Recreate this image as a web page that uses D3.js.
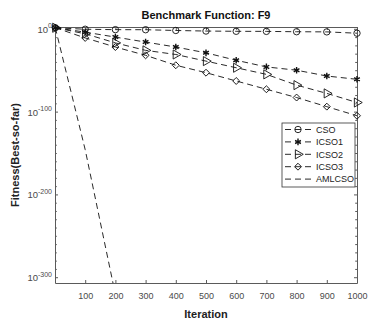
<!DOCTYPE html>
<html>
<head>
<meta charset="utf-8">
<script src="https://cdn.jsdelivr.net/npm/d3@7/dist/d3.min.js"></script>
<style>
  body { margin: 0; background: #fff; }
  text { font-family: "Liberation Sans", Arial, sans-serif; }
</style>
</head>
<body>
<script>
const WIDTH = 369
const HEIGHT = 322

// Data
const iterations = [1, 100, 200, 300, 400, 500, 600, 700, 800, 900, 1000]
const cso = [20, 0.3, 0.1, 0.08, 1e-2, 2e-3, 1e-3, 8e-4, 3e-4, 2e-4, 5e-6]
const icso1 = [20, 1e-4, 1e-10, 1e-16, 1e-22, 1e-29, 1e-38, 1e-46, 1e-50, 1e-57, 1e-61]
const icso2 = [20, 1e-6, 1e-17, 1e-26, 1e-31, 1e-39, 1e-47, 1e-55, 1e-68, 1e-78, 1e-89]
const icso3 = [20, 1e-11, 1e-22, 1e-32, 1e-44, 1e-53, 1e-63, 1e-73, 1e-83, 1e-94, 1e-105]
const amlIterations = [1, 100, 200]
const amlcso = [20, 1e-146, 1e-321]

const xTicks = [100, 200, 300, 400, 500, 600, 700, 800, 900, 1000]
const yTickExps = [0, -100, -200, -300]

const series = [
  { name: "CSO", x: iterations, y: cso, marker: "circle" },
  { name: "ICSO1", x: iterations, y: icso1, marker: "star" },
  { name: "ICSO2", x: iterations, y: icso2, marker: "triangle" },
  { name: "ICSO3", x: iterations, y: icso3, marker: "diamond" },
  { name: "AMLCSO", x: amlIterations, y: amlcso, marker: null }
]

// Layout
const margin = { top: 27, right: 12, bottom: 39, left: 55 }
const AXIS = "#5a5a5a"
const LABEL = "#4a4a4a"

const pLeft = margin.left, pRight = WIDTH - margin.right
const pTop = margin.top, pBottom = HEIGHT - margin.bottom

const x = d3.scaleLinear([0, 1000], [pLeft, pRight])
const y = d3.scaleLog([1e-307, Math.pow(10, 2.2)], [pBottom, pTop])

const svg = d3.select("body").append("svg")
  .attr("width", WIDTH)
  .attr("height", HEIGHT)

svg.append("defs").append("clipPath").attr("id", "plot")
  .append("rect")
    .attr("x", pLeft).attr("y", pTop)
    .attr("width", pRight - pLeft)
    .attr("height", pBottom - pTop)

// Axes (MATLAB style: ticks inward, mirrored)
const minorExps = d3.range(-300, 1, 10).filter(e => e % 100 !== 0)
const styleAxis = g => {
  g.select(".domain").attr("stroke", AXIS)
  g.selectAll(".tick line").attr("stroke", AXIS)
}

// bottom x axis
svg.append("g")
  .attr("transform", `translate(0,${pBottom})`)
  .call(d3.axisBottom(x).tickValues(xTicks).tickFormat(d3.format("d"))
    .tickSize(-3).tickSizeOuter(0).tickPadding(10))
  .call(styleAxis)
  .call(g => g.selectAll(".tick text")
    .attr("fill", LABEL)
    .attr("font-size", 9))

// top x axis ticks
svg.append("g")
  .attr("transform", `translate(0,${pTop})`)
  .call(d3.axisTop(x).tickValues(xTicks).tickSize(-3).tickSizeOuter(0).tickFormat(""))
  .call(styleAxis)

// left and right y axes, major + minor ticks
;[[d3.axisLeft, pLeft], [d3.axisRight, pRight]].forEach(([axisFn, px]) => {
  svg.append("g")
    .attr("transform", `translate(${px},0)`)
    .call(axisFn(y).tickValues(yTickExps.map(e => Math.pow(10, e))).tickSize(-3).tickSizeOuter(0).tickFormat(""))
    .call(styleAxis)
  svg.append("g")
    .attr("transform", `translate(${px},0)`)
    .call(axisFn(y).tickValues(minorExps.map(e => Math.pow(10, e))).tickSize(-1.8).tickSizeOuter(0).tickFormat(""))
    .call(g => g.select(".domain").remove())
    .call(styleAxis)
})

// y tick labels with superscripts
const yLab = svg.append("g")
  .attr("fill", LABEL)
  .attr("text-anchor", "end")
  .selectAll("text")
  .data(yTickExps)
  .join("text")
    .attr("x", pLeft - 3)
    .attr("y", e => y(Math.pow(10, e)) + 4)
yLab.append("tspan").attr("font-size", 9.5).text("10")
yLab.append("tspan").attr("font-size", 7).attr("dy", -4.5).text(e => e === 0 ? "0" : `-${-e}`)

// Lines
const line = d3.line()
  .x(d => x(d[0]))
  .y(d => y(d[1]))

const plot = svg.append("g").attr("clip-path", "url(#plot)")

plot.selectAll("path.series")
  .data(series)
  .join("path")
    .attr("class", "series")
    .attr("fill", "none")
    .attr("stroke", "#111")
    .attr("stroke-width", 0.9)
    .attr("stroke-dasharray", "6,4")
    .attr("d", s => line(d3.zip(s.x, s.y)))

// Markers
const markerPath = {
  circle: d3.symbol(d3.symbolCircle, 32)(),
  star: d3.symbol(d3.symbolAsterisk, 30)(),
  triangle: d3.symbol(d3.symbolTriangle, 36)(),
  diamond: d3.symbol(d3.symbolSquare, 24)()
}
const markerRotate = { circle: 0, star: 0, triangle: 90, diamond: 45 }

const drawMarker = (g, m, cx, cy) => {
  g.append("path")
    .attr("d", markerPath[m])
    .attr("transform", `translate(${cx},${cy}) rotate(${markerRotate[m]})`)
    .attr("fill", "none")
    .attr("stroke", "#111")
    .attr("stroke-width", m === "star" ? 1.4 : 0.9)
}

const markerG = svg.append("g")
series.filter(s => s.marker).forEach(s => {
  s.x.forEach((xi, i) => drawMarker(markerG, s.marker, x(xi), y(s.y[i])))
})

// Legend
const lg = svg.append("g").attr("transform", "translate(282,123)")
lg.append("rect")
  .attr("width", 73).attr("height", 64)
  .attr("fill", "#fff")
  .attr("stroke", "#333")
  .attr("stroke-width", 0.8)

series.forEach((s, i) => {
  const ly = 6.5 + i * 12.4
  lg.append("line")
    .attr("x1", 3).attr("x2", 31)
    .attr("y1", ly).attr("y2", ly)
    .attr("stroke", "#111")
    .attr("stroke-width", 0.9)
    .attr("stroke-dasharray", "6,4")
  if (s.marker) drawMarker(lg, s.marker, 16, ly)
  lg.append("text")
    .attr("x", 34).attr("y", ly + 3.3)
    .attr("font-size", 9)
    .attr("fill", "#222")
    .text(s.name)
})

// Title and axis labels
svg.append("text")
  .attr("x", (pLeft + pRight) / 2).attr("y", 19)
  .attr("text-anchor", "middle")
  .attr("font-size", 11).attr("font-weight", "bold")
  .attr("fill", "#111")
  .text("Benchmark Function: F9")

svg.append("text")
  .attr("x", (pLeft + pRight) / 2).attr("y", 318)
  .attr("text-anchor", "middle")
  .attr("font-size", 11).attr("font-weight", "bold")
  .attr("fill", "#222")
  .text("Iteration")

svg.append("text")
  .attr("transform", `translate(19,${(pTop + pBottom) / 2}) rotate(-90)`)
  .attr("text-anchor", "middle")
  .attr("font-size", 11).attr("font-weight", "bold")
  .attr("fill", "#222")
  .text("Fitness(Best-so-far)")
</script>
</body>
</html>
